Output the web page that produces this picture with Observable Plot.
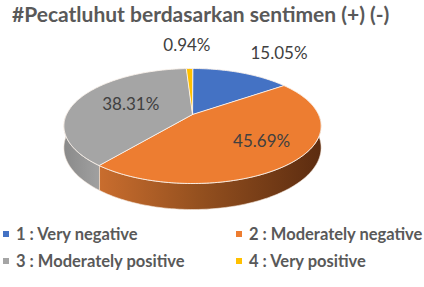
<!DOCTYPE html>
<html>
<head>
<meta charset="utf-8">
<script src="https://cdn.jsdelivr.net/npm/d3@7"></script>
<script src="https://cdn.jsdelivr.net/npm/@observablehq/plot@0.6"></script>
<style>
  html, body { margin: 0; padding: 0; background: #fff; width: 424px; height: 287px; overflow: hidden; }
  #title { font-family: Lato, sans-serif; font-weight: 700; font-size: 21px; color: #595959; height: 30px; line-height: 28px; padding-left: 12px; white-space: nowrap; }
  #chart svg { display: block; }
  .lg-swatches { font-family: Lato, sans-serif !important; font-size: 16.5px !important; font-weight: 700; color: #595959; margin: 0 !important; min-height: 0 !important; width: 470px; }
  .lg-swatches-wrap .lg-swatch { width: 233px; margin-right: 0 !important; height: 27px; padding-left: 3px; box-sizing: border-box; white-space: nowrap; }
  .lg-swatch > svg { margin-right: 7px !important; }
</style>
</head>
<body>
<div id="title">#Pecatluhut berdasarkan sentimen (+) (-)</div>
<div id="chart"></div>
<div id="legend"></div>
<script>
// ---- data ----
const categories = ["1 : Very negative", "2 : Moderately negative", "3 : Moderately positive", "4 : Very positive"];
const values = [15.05, 45.69, 38.31, 0.94];
const valueLabels = ["15.05%", "45.69%", "38.31%", "0.94%"];
const colors = ["#4472C4", "#ED7D31", "#A5A5A5", "#FFC000"];
const sideFills = ["url(#sideBlue)", "url(#sideOrange)", "url(#sideGrey)", "url(#sideYellow)"];

// ---- 3D pie geometry (unit pie, perspective tilt) ----
const persp = 0.2;      // perspective strength
const depth = 0.377;    // thickness of the pie (before perspective)
const proj = (r, a, h = 0) => {
  const u = r * Math.sin(a), v = r * Math.cos(a), w = 1 + persp * v;
  return [u / w, (v - h) / w];
};
const arcs = d3.pie().sort(null).value(d => d)(values);
const step = Math.PI / 180;
const range = (a0, a1) => {
  const n = Math.max(2, Math.ceil((a1 - a0) / step));
  return d3.range(n + 1).map(i => a0 + (a1 - a0) * i / n);
};

const tops = [];
arcs.forEach((arc, i) => {
  tops.push({cat: categories[i], x: 0, y: 0});
  for (const a of range(arc.startAngle, arc.endAngle)) {
    const [x, y] = proj(1, a);
    tops.push({cat: categories[i], x, y});
  }
});

const sides = [];
arcs.forEach((arc, i) => {
  const a0 = Math.max(arc.startAngle, Math.PI / 2), a1 = Math.min(arc.endAngle, 3 * Math.PI / 2);
  if (a1 <= a0) return;
  const angles = range(a0, a1);
  angles.forEach(a => { const [x, y] = proj(1, a); sides.push({cat: categories[i], fill: sideFills[i], x, y}); });
  angles.slice().reverse().forEach(a => { const [x, y] = proj(1, a, depth); sides.push({cat: categories[i], fill: sideFills[i], x, y}); });
});

// labels: small slices outside, large slices inside
const labels = arcs.map((arc, i) => {
  const mid = (arc.startAngle + arc.endAngle) / 2;
  const share = values[i] / d3.sum(values);
  let x, y, inside = share >= 0.2;
  if (!inside) {
    x = 1.45 * Math.sin(mid) * 1.04; y = 1.4 * Math.cos(mid) - 0.15;
  } else {
    [x, y] = proj(0.62, mid);
  }
  return {text: valueLabels[i], x, y, inside};
});

const W = 424, H = 190;
const plot = Plot.plot({
  width: W, height: H,
  margin: 0,
  x: {domain: [-192 / 126, (W - 192) / 126], axis: null},
  y: {domain: [-(H - 84) / 55.2, 84 / 55.2], axis: null},
  color: {domain: categories, range: colors},
  style: {background: "white"},
  marks: [
    ...d3.groups(sides, d => d.cat).map(([cat, pts]) =>
      Plot.line(pts, {x: "x", y: "y", fill: pts[0].fill, stroke: "#f4e6da", strokeWidth: 0.6, curve: "linear-closed"})),
    Plot.line(tops, {x: "x", y: "y", z: "cat", fill: "cat", stroke: "#fbf3ec", strokeWidth: 0.9, curve: "linear-closed"}),
    Plot.text(labels.filter(d => !d.inside), {x: "x", y: "y", text: "text", fill: "#404040", fontSize: 17, fontFamily: "Lato, sans-serif"}),
    Plot.text(labels.filter(d => d.inside), {x: "x", y: "y", text: "text", dx: 10, fill: "#404040", fontSize: 17, fontFamily: "Lato, sans-serif"})
  ]
});

// gradients for the pie sides
const defs = d3.select(plot).insert("defs", ":first-child");
const grad = (id, stops) => {
  const g = defs.append("linearGradient").attr("id", id).attr("x1", 0).attr("x2", 1).attr("y1", 0).attr("y2", 0);
  stops.forEach(([o, c]) => g.append("stop").attr("offset", o).attr("stop-color", c));
};
grad("sideOrange", [[0, "#c96d2e"], [0.45, "#94501f"], [1, "#5c2c10"]]);
grad("sideGrey", [[0, "#8a8a8a"], [1, "#a0a0a0"]]);
grad("sideBlue", [[0, "#2f5597"], [1, "#203864"]]);
grad("sideYellow", [[0, "#bf9000"], [1, "#7f6000"]]);

document.getElementById("chart").appendChild(plot);
document.getElementById("legend").appendChild(plot.legend("color", {legend: "swatches", swatchSize: 6, className: "lg"}));
</script>
</body>
</html>
